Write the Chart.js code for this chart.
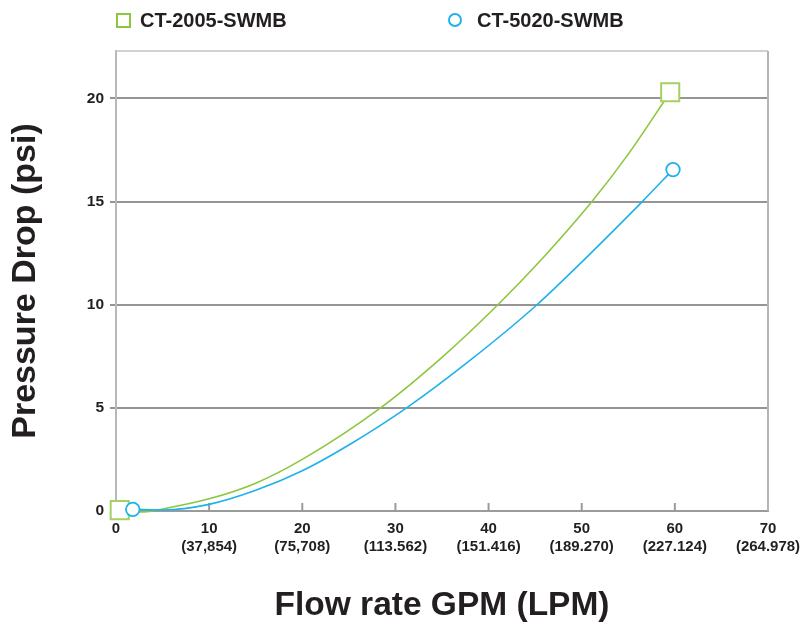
<!DOCTYPE html>
<html>
<head>
<meta charset="utf-8">
<script src="https://cdn.jsdelivr.net/npm/chart.js@4.4.1/dist/chart.umd.min.js"></script>
<style>
  html, body { margin: 0; padding: 0; background: #fff; }
  #wrap { position: relative; width: 803px; height: 624px; font-family: "Liberation Sans", Arial, sans-serif; color: #231f20; }
  #chart { position: absolute; left: 0; top: 0; }
  .legend-item { position: absolute; top: 8px; height: 24px; line-height: 24px; font-weight: bold; font-size: 20px; }
  .swatch { position: absolute; box-sizing: border-box; }
</style>
</head>
<body>
<div id="wrap">
  <canvas id="chart" width="803" height="624"></canvas>
  <div class="swatch" id="sw1" style="left:116px;top:13px;width:15px;height:15px;border:2.5px solid #8dc63f;"></div>
  <div class="legend-item" id="lg1" style="left:140px;"></div>
  <div class="swatch" id="sw2" style="left:448px;top:13px;width:14px;height:14px;border:2px solid #1fb1ec;border-radius:50%;"></div>
  <div class="legend-item" id="lg2" style="left:477px;"></div>
</div>
<script>
// series names
const seriesNames = ['CT-2005-SWMB', 'CT-5020-SWMB'];

// CT-2005-SWMB (GPM, psi)
const greenX = [0.4, 3, 5, 10, 15, 20, 28.4, 35, 41, 46, 51.1, 55, 59.5];
const greenY = [0.04, -0.04, 0.1, 0.59, 1.35, 2.5, 5, 7.45, 10, 12.35, 15, 17.3, 20.3];

// CT-5020-SWMB
const blueX = [1.8, 5, 10, 15, 20, 25, 31.2, 38, 45.2, 50.3, 56.5, 59.8];
const blueY = [0.08, 0.05, 0.32, 1.0, 1.95, 3.2, 5, 7.3, 10, 12.2, 15, 16.55];

// axis ticks
const xTicks = [0, 10, 20, 30, 40, 50, 60, 70];
const gpmLabels = ['0', '10', '20', '30', '40', '50', '60', '70'];
const lpmLabels = ['', '(37,854)', '(75,708)', '(113.562)', '(151.416)', '(189.270)', '(227.124)', '(264.978)'];
const yTicks = [0, 5, 10, 15, 20];

const GREEN = '#8dc63f';
const BLUE = '#1fb1ec';
const TEXT = '#231f20';

document.getElementById('lg1').textContent = seriesNames[0];
document.getElementById('lg2').textContent = seriesNames[1];

const toPoints = (xs, ys) => xs.map((x, i) => ({ x: x, y: ys[i] }));
// only the first and last reading get a marker
const endRadius = (n, r) => Array.from({ length: n }, (_, i) => (i === 0 || i === n - 1) ? r : 0);

// top + right frame, and the small inward ticks on the x axis
const framePlugin = {
    id: 'frame',
    beforeDatasetsDraw(chart) {
        const { ctx, chartArea: a, scales } = chart;
        ctx.save();
        ctx.strokeStyle = '#c2c2c2';
        ctx.lineWidth = 1.5;
        ctx.beginPath();
        ctx.moveTo(a.left, a.top);
        ctx.lineTo(a.right, a.top);
        ctx.stroke();
        ctx.strokeStyle = '#b5b5b5';
        ctx.lineWidth = 2;
        ctx.beginPath();
        ctx.moveTo(a.right, a.top);
        ctx.lineTo(a.right, a.bottom);
        ctx.stroke();
        ctx.strokeStyle = '#9b9b9b';
        ctx.lineWidth = 2;
        xTicks.slice(1, -1).forEach(v => {
            const px = scales.x.getPixelForValue(v);
            ctx.beginPath();
            ctx.moveTo(px, a.bottom);
            ctx.lineTo(px, a.bottom - 8);
            ctx.stroke();
        });
        ctx.restore();
    }
};

new Chart(document.getElementById('chart'), {
    type: 'line',
    data: {
        datasets: [
            {
                label: seriesNames[0],
                data: toPoints(greenX, greenY),
                borderColor: GREEN,
                borderWidth: 1.6,
                backgroundColor: '#ffffff',
                pointStyle: 'rect',
                pointRadius: endRadius(greenX.length, 12.8),
                pointBorderColor: '#a5d063',
                pointBorderWidth: 2,
                pointBackgroundColor: '#ffffff',
                cubicInterpolationMode: 'monotone',
                fill: false,
                clip: false,
                order: 1
            },
            {
                label: seriesNames[1],
                data: toPoints(blueX, blueY),
                borderColor: BLUE,
                borderWidth: 1.6,
                backgroundColor: '#ffffff',
                pointStyle: 'circle',
                pointRadius: endRadius(blueX.length, 6.8),
                pointBorderColor: BLUE,
                pointBorderWidth: 1.8,
                pointBackgroundColor: '#ffffff',
                cubicInterpolationMode: 'monotone',
                fill: false,
                clip: false,
                order: 0
            }
        ]
    },
    options: {
        responsive: false,
        animation: false,
        events: [],
        layout: { padding: { top: 51, right: 35, left: 0, bottom: 0 } },
        plugins: {
            legend: { display: false },
            tooltip: { enabled: false }
        },
        scales: {
            x: {
                type: 'linear',
                min: 0,
                max: 70,
                afterFit: s => { s.height = 113; s.paddingRight = 0; s.paddingLeft = 0; },
                afterBuildTicks: s => { s.ticks = xTicks.map(v => ({ value: v })); },
                grid: { display: false, drawTicks: false },
                border: { display: true, color: '#9b9b9b', width: 2 },
                ticks: {
                    padding: 9,
                    color: TEXT,
                    maxRotation: 0,
                    autoSkip: false,
                    font: { family: '"Liberation Sans", Arial, sans-serif', size: 15, weight: 'bold', lineHeight: 1.2 },
                    callback: (v) => {
                        const i = xTicks.indexOf(v);
                        return lpmLabels[i] ? [gpmLabels[i], lpmLabels[i]] : gpmLabels[i];
                    }
                },
                title: {
                    display: true,
                    text: 'Flow rate GPM (LPM)',
                    color: TEXT,
                    padding: 0,
                    font: { family: '"Liberation Sans", Arial, sans-serif', size: 33.5, weight: 'bold', lineHeight: 1.1 }
                }
            },
            y: {
                min: 0,
                max: 22.3,
                afterFit: s => { s.width = 116; },
                afterBuildTicks: s => { s.ticks = yTicks.map(v => ({ value: v })); },
                grid: {
                    color: '#959595',
                    lineWidth: 2,
                    tickLength: 6,
                    tickColor: '#959595'
                },
                border: { display: true, color: '#b8b8b8', width: 2 },
                ticks: {
                    padding: 6,
                    color: TEXT,
                    font: { family: '"Liberation Sans", Arial, sans-serif', size: 15.5, weight: 'bold' }
                },
                title: {
                    display: true,
                    text: 'Pressure Drop (psi)',
                    color: TEXT,
                    padding: { top: 5, bottom: 0 },
                    font: { family: '"Liberation Sans", Arial, sans-serif', size: 34, weight: 'bold', lineHeight: 1.2 }
                }
            }
        }
    },
    plugins: [framePlugin]
});
</script>
</body>
</html>
